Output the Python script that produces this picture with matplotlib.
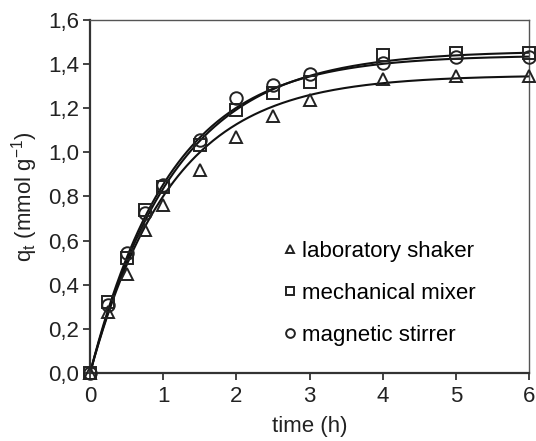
import numpy as np
import matplotlib
matplotlib.use('Agg')
import matplotlib.pyplot as plt
from matplotlib.ticker import FuncFormatter

plt.rcParams['font.family'] = ['Liberation Sans', 'DejaVu Sans']
plt.rcParams['mathtext.fontset'] = 'custom'
plt.rcParams['mathtext.rm'] = 'Liberation Sans'

# measured points
time_h = [0, 0.25, 0.5, 0.75, 1, 1.5, 2, 2.5, 3, 4, 5, 6]
q_shaker = [0, 0.275, 0.45, 0.65, 0.76, 0.92, 1.07, 1.165, 1.235, 1.333, 1.346, 1.346]
q_mixer = [0, 0.32, 0.52, 0.74, 0.845, 1.035, 1.19, 1.27, 1.32, 1.44, 1.45, 1.45]
q_stirrer = [0, 0.31, 0.544, 0.725, 0.85, 1.055, 1.247, 1.305, 1.355, 1.405, 1.43, 1.43]

# kinetic fit parameters (qe, k1)
fit_shaker = (1.35, 0.90)
fit_mixer = (1.46, 0.85)
fit_stirrer = (1.44, 0.90)

labels = ['laboratory shaker', 'mechanical mixer', 'magnetic stirrer']
markers = ['^', 's', 'o']

fig = plt.figure(figsize=(5.36, 4.41), dpi=100)
ax = fig.add_axes([0.168, 0.154, 0.819, 0.801])

tt = np.linspace(0, 6, 300)
for q, fit, m, lab in zip([q_shaker, q_mixer, q_stirrer],
                          [fit_shaker, fit_mixer, fit_stirrer], markers, labels):
    qe, k = fit
    ax.plot(tt, qe * (1 - np.exp(-k * tt)), color='#111111', lw=1.5, zorder=2)
    ax.plot(time_h, q, linestyle='none', marker=m, markersize=9,
            markerfacecolor='none', markeredgecolor='#222222', markeredgewidth=1.4,
            label=lab, zorder=3, clip_on=False)

ax.set_xlim(0, 6)
ax.set_ylim(0, 1.6)
ax.set_xticks(range(0, 7))
ax.set_yticks(np.arange(0, 1.61, 0.2))
ax.yaxis.set_major_formatter(FuncFormatter(lambda v, p: ('%.1f' % v).replace('.', ',')))
ax.tick_params(labelsize=16, colors='#222222', length=5, width=1.2, direction='out')
ax.tick_params(axis='x', pad=4)
ax.tick_params(axis='y', pad=3)

for s in ['left', 'bottom']:
    ax.spines[s].set_linewidth(1.6)
    ax.spines[s].set_color('#333333')
for s in ['top', 'right']:
    ax.spines[s].set_linewidth(1.0)
    ax.spines[s].set_color('#555555')

ax.set_xlabel('time (h)', fontsize=16, color='#222222', labelpad=7)
ax.set_ylabel(r'q$_\mathregular{t}$ (mmol g$^\mathregular{ -1}$)', fontsize=16,
              color='#222222', labelpad=6)

leg = ax.legend(loc='center left', bbox_to_anchor=(0.39, 0.225), frameon=False,
                fontsize=16, handletextpad=0.15, labelspacing=0.95,
                handlelength=0.8, markerscale=0.7)

fig.savefig('out.png', dpi=100)
